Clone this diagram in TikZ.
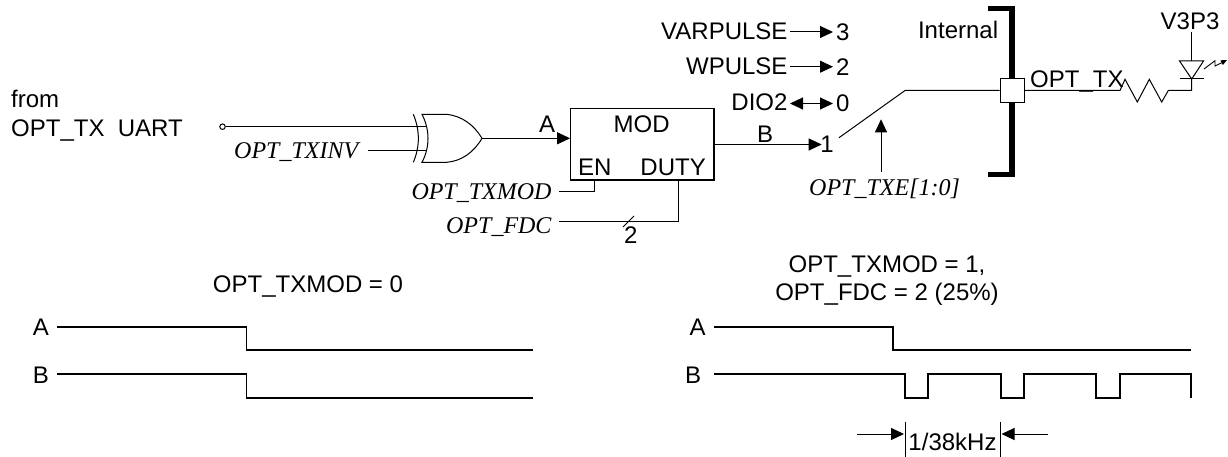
\documentclass[tikz,border=0pt]{standalone}
\usepackage{fontspec}
\setmainfont{Liberation Sans}
\newfontfamily\serifit{Liberation Serif}
\usetikzlibrary{arrows.meta}
\tikzset{
  x=1pt,y=-1pt,
  lbl/.style={inner sep=0pt,font=\fontsize{24}{28}\selectfont},
  sig/.style={inner sep=0pt,font=\fontsize{24}{28}\selectfont\serifit\itshape},
  wire/.style={line width=1pt,line join=miter},
  wave/.style={line width=1.9pt,line join=miter},
  head/.style={-{Triangle[length=13pt,width=12pt]}},
  dhead/.style={{Triangle[length=13pt,width=12pt]}-{Triangle[length=13pt,width=12pt]}},
}
\begin{document}
\begin{tikzpicture}
\useasboundingbox (0,0) rectangle (1228,457);
% text
\node[lbl,anchor=base west] (from) at (11,108) {from};
\node[lbl,anchor=base west] (uart) at (11,137) {OPT\_TX\ \ UART};
\node[sig,anchor=base west] (txinv) at (234,158.3) {OPT\_TXINV};
\node[sig,anchor=base east] (txmod) at (551.7,199.3) {OPT\_TXMOD};
\node[sig,anchor=base east] (fdc) at (551.7,233.3) {OPT\_FDC};
\node[sig,anchor=base west] (txe) at (809,195.7) {OPT\_TXE[1:0]};
\node[lbl,anchor=base] (la) at (547,133) {A};
\node[lbl,anchor=base] (lb) at (765,142.7) {B};
\node[lbl,anchor=base] (l2) at (630.7,243) {2};
\node[lbl,anchor=base east] (var) at (787.7,39.3) {VARPULSE};
\node[lbl,anchor=base east] (wp) at (787.7,74.7) {WPULSE};
\node[lbl,anchor=base east] (dio) at (787.7,111) {DIO2};
\node[lbl,anchor=base] (n3) at (842.7,40.7) {3};
\node[lbl,anchor=base] (n2) at (842.7,75.3) {2};
\node[lbl,anchor=base] (n0) at (842.7,111.3) {0};
\node[lbl,anchor=base] (n1) at (827,153) {1};
\node[lbl,anchor=base east] (internal) at (998.3,39) {Internal};
\node[lbl,anchor=base] (v3p3) at (1190,30) {V3P3};
\node[lbl,anchor=base] (t1) at (308,292) {OPT\_TXMOD = 0};
\node[lbl,anchor=base] (t2) at (887,272.7) {OPT\_TXMOD = 1,};
\node[lbl,anchor=base] (t3) at (887,300.7) {OPT\_FDC = 2 (25\%)};
\node[lbl,anchor=base] (wa1) at (41,335) {A};
\node[lbl,anchor=base] (wb1) at (41,383) {B};
\node[lbl,anchor=base] (wa2) at (697.7,335) {A};
\node[lbl,anchor=base] (wb2) at (693,383) {B};
\node[lbl,anchor=base] (per) at (952.5,450) {1/38kHz};
% XOR gate
\coordinate (xtl) at (422,114.3);
\coordinate (xbl) at (422,162.3);
\coordinate (xtm) at (446.7,114.3);
\coordinate (xbm) at (446.7,162.3);
\coordinate (xout) at (482,138.3);
\coordinate (b1) at (413.3,114.3);
\coordinate (b2) at (413.3,162.3);
\draw[wire] (b1) .. controls (420,130) and (420,147) .. (b2);
\draw[wire] (xtl) .. controls (430,130) and (430,147) .. (xbl) -- (xbm)
   .. controls (462,161) and (474,152) .. (xout)
   .. controls (474,125) and (462,116) .. (xtm) -- cycle;
% MOD
\node[draw,line width=1.2pt,minimum width=143.3pt,minimum height=71.3pt,inner sep=0pt] (mod) at (642.35,144.35) {};
\node[lbl,anchor=base] (modt) at (641.7,133) {MOD};
\node[lbl,anchor=base west] (en) at (578,176) {EN};
\node[lbl,anchor=base east] (duty) at (706,176) {DUTY};
% input wires
\node[draw,circle,line width=1pt,minimum size=5.5pt,inner sep=0pt,fill=white] (inc) at (222.5,126.7) {};
\coordinate (ia) at (425.5,126.7);
\draw[wire] (inc) -- (ia);
\coordinate (ib0) at (368,150.5);
\coordinate (ib1) at (425.5,150.5);
\draw[wire] (ib0) -- (ib1);
\draw[wire,head] (xout) -- (xout -| mod.west);
% EN / DUTY wires
\coordinate (e0) at (559,191.7);
\coordinate (e1) at (594.7,180);
\draw[wire] (e0) -| (e1);
\coordinate (f0) at (559,221.7);
\coordinate (f1) at (678,180);
\draw[wire] (f0) -| (f1);
\coordinate (s0) at (623,227);
\coordinate (s1) at (634,216);
\draw[wire] (s0) -- (s1);
% B
\coordinate (bs) at (714,144.5);
\coordinate (be) at (821.7,144.5);
\draw[wire,head] (bs) -- (be);
% mux inputs
\coordinate (a3s) at (790,32); \coordinate (a3e) at (833,32);
\coordinate (a2s) at (790,66.7); \coordinate (a2e) at (833,66.7);
\coordinate (a0s) at (790,103.5); \coordinate (a0e) at (833,103.5);
\draw[wire,head] (a3s) -- (a3e);
\draw[wire,head] (a2s) -- (a2e);
\draw[wire,dhead] (a0s) -- (a0e);
% switch
\coordinate (sw0) at (839,137.7);
\coordinate (sw1) at (905,90.5);
\coordinate (txu0) at (881,171.7);
\coordinate (txu1) at (881,119.3);
\draw[wire,head] (txu0) -- (txu1);
% bracket
\coordinate (br0) at (988,8.5);
\coordinate (br1) at (1011.7,8.5);
\coordinate (br2) at (1011.7,174.5);
\coordinate (br3) at (988,174.5);
\draw[line width=5.6pt,line join=miter] (br0) -- (br1) -- (br2) -- (br3);
% pad
\node[draw,fill=white,line width=1.2pt,minimum size=24.4pt,inner sep=0pt] (pad) at (1012.3,90.5) {};
\draw[wire] (sw0) -- (sw1) -- (pad);
\node[lbl,anchor=base west] (optx) at (1030,87.3) {OPT\_TX};
% resistor + LED
\coordinate (r0) at (1120,90.5);
\coordinate (rz1) at (1125,79.3);
\coordinate (rz2) at (1137.3,102);
\coordinate (rz3) at (1149.3,79.3);
\coordinate (rz4) at (1161.7,102);
\coordinate (r5) at (1168.3,90.5);
\coordinate (ledb) at (1191.7,90.5);
\coordinate (ledk) at (1191.7,79);
\coordinate (leda) at (1191.7,61);
\coordinate (ledt) at (1191.7,32);
\draw[wire] (pad) -- (r0) -- (rz1) -- (rz2) -- (rz3) -- (rz4) -- (r5) -- (ledb) -- (ledk);
\draw[wire] (ledt) -- (leda);
\coordinate (t1l) at (1179.5,61);
\coordinate (t1r) at (1203.5,61);
\coordinate (b1l) at (1179.5,79);
\coordinate (b1r) at (1203.5,79);
\draw[wire] (t1l) -- (t1r) -- (ledk) -- cycle;
\draw[wire] (b1l) -- (b1r);
\coordinate (l0) at (1204,69);
\coordinate (l1) at (1215,60.7);
\coordinate (l2c) at (1215,66);
\coordinate (l3) at (1227,60);
\draw[line width=0.9pt,-{Triangle[length=6pt,width=5pt]}] (l0) -- (l1) -- (l2c) -- (l3);
% waveforms left
\draw[wave] (57,326.7) -- (246.5,326.7) -- (246.5,350) -- (533,350);
\draw[wave] (57,374) -- (246.5,374) -- (246.5,398) -- (533,398);
% waveforms right
\draw[wave] (714,326.7) -- (893.3,326.7) -- (893.3,350) -- (1191,350);
\draw[wave] (714,374) -- (905,374) -- (905,398) -- (928,398) -- (928,374) -- (1001,374) -- (1001,398) -- (1024,398) -- (1024,374) -- (1096,374) -- (1096,398) -- (1120,398) -- (1120,374) -- (1191,374) -- (1191,398);
% period
\coordinate (k1a) at (905,421.7); \coordinate (k1b) at (905,456.7);
\coordinate (k2a) at (1000,421.7); \coordinate (k2b) at (1000,456.7);
\draw[wire] (k1a) -- (k1b);
\draw[wire] (k2a) -- (k2b);
\coordinate (p0) at (857,434); \coordinate (p1) at (904,434);
\coordinate (p2) at (1048,434); \coordinate (p3) at (1001.5,434);
\draw[wire,head] (p0) -- (p1);
\draw[wire,head] (p2) -- (p3);
\end{tikzpicture}
\end{document}
